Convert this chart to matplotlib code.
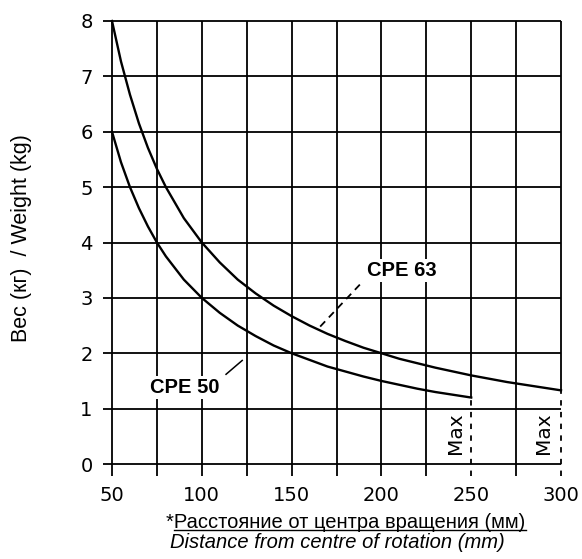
import matplotlib
matplotlib.use("Agg")
import matplotlib.pyplot as plt
from matplotlib.lines import Line2D

# ---- data ----
dist_63 = [50, 55, 60, 65, 70, 75, 80, 90, 100, 110, 120, 130, 140, 150, 160, 170,
           180, 190, 200, 210, 220, 230, 240, 250, 260, 270, 280, 290, 300]
weight_63 = [8.0, 7.27, 6.67, 6.15, 5.71, 5.33, 5.0, 4.44, 4.0, 3.64, 3.33, 3.08, 2.86,
             2.67, 2.5, 2.35, 2.22, 2.1, 2.0, 1.9, 1.82, 1.74, 1.67, 1.6, 1.54, 1.48,
             1.43, 1.38, 1.33]
dist_50 = [50, 55, 60, 65, 70, 75, 80, 90, 100, 110, 120, 130, 140, 150, 160, 170,
           180, 190, 200, 210, 220, 230, 240, 250]
weight_50 = [6.0, 5.45, 5.0, 4.62, 4.29, 4.0, 3.75, 3.33, 3.0, 2.73, 2.5, 2.31, 2.14,
             2.0, 1.88, 1.76, 1.67, 1.58, 1.5, 1.43, 1.36, 1.3, 1.25, 1.2]
x_ticks = [50, 100, 150, 200, 250, 300]
x_grid = [50, 75, 100, 125, 150, 175, 200, 225, 250, 275, 300]
y_ticks = [0, 1, 2, 3, 4, 5, 6, 7, 8]
series_labels = ["CPE 63", "CPE 50"]
max_label = "Max"
y_label = "Вес (кг)  / Weight (kg)"
x_label_ru_star = "*"
x_label_ru = "Расстояние от центра вращения (мм)"
x_label_en = "Distance from centre of rotation (mm)"

# ---- figure ----
W, H = 582, 559
fig = plt.figure(figsize=(W / 100, H / 100), dpi=100)
ax = fig.add_axes([112 / W, 1 - 464 / H, (561 - 112) / W, (464 - 21) / H])
ax.set_xlim(50, 300)
ax.set_ylim(0, 8)
for s in ax.spines.values():
    s.set_visible(False)

grid_kw = dict(color="black", lw=1.3, clip_on=False, zorder=1)
dash_kw = dict(color="black", lw=1.3, clip_on=False, linestyles=(0, (3, 3.5)), zorder=1)
# horizontal grid lines (extend slightly left of axis)
ax.hlines(y_ticks, 45, 300, **grid_kw)
# vertical grid lines
end_50 = weight_50[-1]
end_63 = weight_63[-1]
for xg in x_grid:
    if xg == dist_50[-1]:
        ax.vlines(xg, end_50, 8, **grid_kw)
        ax.vlines(xg, -0.22, end_50, **dash_kw)
    elif xg == dist_63[-1]:
        ax.vlines(xg, end_63, 8, **grid_kw)
        ax.vlines(xg, -0.22, end_63, **dash_kw)
    else:
        ax.vlines(xg, -0.22, 8, **grid_kw)

# curves
ax.plot(dist_63, weight_63, color="black", lw=1.7, zorder=3, clip_on=False)
ax.plot(dist_50, weight_50, color="black", lw=1.7, zorder=3, clip_on=False)

# ticks
ax.set_xticks(x_ticks)
ax.set_yticks(y_ticks)
ax.tick_params(axis="both", length=0, labelsize=14)
ax.tick_params(axis="x", pad=16)
ax.tick_params(axis="y", pad=14)
for lab in ax.get_xticklabels() + ax.get_yticklabels():
    lab.set_fontfamily("DejaVu Sans")

# series labels
bold_font = dict(family="Liberation Sans", weight="bold", size=14.5)
ax.text(211.5, 3.49, series_labels[0], ha="center", va="center", zorder=4,
        bbox=dict(facecolor="white", edgecolor="none", pad=1.5), **bold_font)
ax.plot([188, 165], [3.24, 2.45], color="black", lw=1.3, ls=(0, (4, 3)), zorder=4)
ax.text(90.5, 1.38, series_labels[1], ha="center", va="center", zorder=4,
        bbox=dict(facecolor="white", edgecolor="none", pad=1.5), **bold_font)
ax.plot([113.5, 122.5], [1.62, 1.87], color="black", lw=1.1, zorder=4)

# Max labels
for xm in (241.5, 290.5):
    ax.text(xm, 0.55, max_label, rotation=90, ha="center", va="center",
            family="DejaVu Sans", size=14.5, zorder=4)

# y label
fig.text(22 / W, 1 - 238 / H, y_label, rotation=90, ha="center", va="center",
         family="Liberation Sans", size=15.5)

# x labels
t_ru = fig.text(346 / W, 1 - 523 / H, x_label_ru_star + x_label_ru, ha="center",
                va="center", family="Liberation Sans", size=14.5)
fig.text(337 / W, 1 - 543 / H, x_label_en, ha="center", va="center",
         family="Liberation Sans", style="italic", size=14.5)

fig.canvas.draw()
renderer = fig.canvas.get_renderer()
bb = t_ru.get_window_extent(renderer)
star = fig.text(0, 0, x_label_ru_star, family="Liberation Sans", size=14.5)
sw = star.get_window_extent(renderer).width
star.remove()
y_ul = (bb.y0 + 2.5) / H
fig.add_artist(Line2D([(bb.x0 + sw) / W, bb.x1 / W], [y_ul, y_ul],
                      color="black", lw=1.0))

fig.savefig("out.png", dpi=100)
